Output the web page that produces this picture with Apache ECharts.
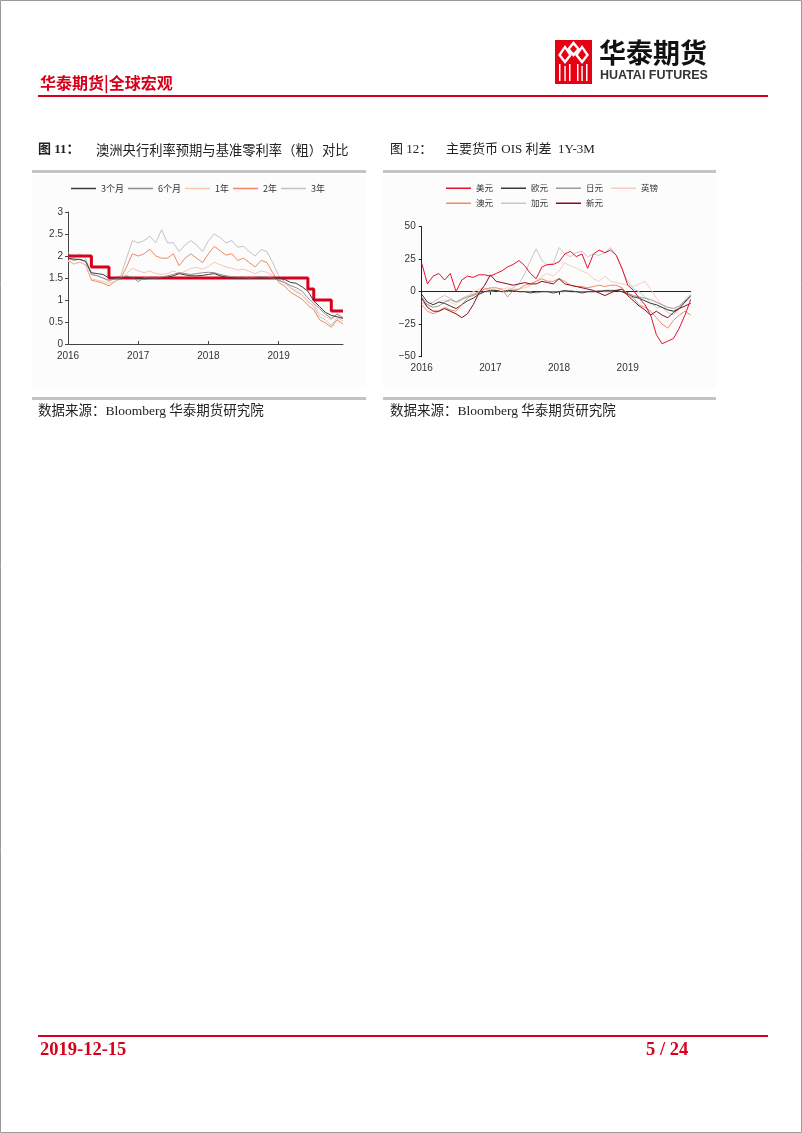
<!DOCTYPE html>
<html>
<head>
<meta charset="utf-8">
<script src="https://cdn.jsdelivr.net/npm/echarts@6/dist/echarts.min.js"></script>
<style>
  html, body { margin: 0; padding: 0; background: #fff; }
  #page { width: 802px; height: 1133px; }
</style>
</head>
<body>
<div id="page"></div>
<script>
// monthly points, Jan 2016 .. Dec 2019
var months = [
  '2016-01','2016-02','2016-03','2016-04','2016-05','2016-06','2016-07','2016-08','2016-09','2016-10','2016-11','2016-12',
  '2017-01','2017-02','2017-03','2017-04','2017-05','2017-06','2017-07','2017-08','2017-09','2017-10','2017-11','2017-12',
  '2018-01','2018-02','2018-03','2018-04','2018-05','2018-06','2018-07','2018-08','2018-09','2018-10','2018-11','2018-12',
  '2019-01','2019-02','2019-03','2019-04','2019-05','2019-06','2019-07','2019-08','2019-09','2019-10','2019-11','2019-12'
];

// 图11: RBA expectations (%)
var rate3M = [1.95,1.93,1.92,1.88,1.62,1.6,1.58,1.5,1.5,1.5,1.52,1.5,
  1.5,1.48,1.5,1.5,1.5,1.52,1.55,1.6,1.57,1.55,1.55,1.56,
  1.58,1.6,1.55,1.52,1.5,1.5,1.5,1.5,1.5,1.5,1.5,1.5,
  1.5,1.47,1.4,1.38,1.3,1.2,0.98,0.85,0.72,0.65,0.62,0.58];
var rate6M = [1.95,1.9,1.93,1.88,1.58,1.55,1.5,1.45,1.48,1.5,1.55,1.52,
  1.42,1.5,1.5,1.5,1.52,1.55,1.58,1.62,1.6,1.58,1.6,1.62,
  1.63,1.62,1.58,1.55,1.53,1.52,1.52,1.5,1.52,1.53,1.52,1.5,
  1.45,1.4,1.33,1.28,1.2,1.05,0.92,0.8,0.68,0.58,0.68,0.6];
var rate1Y = [1.88,1.82,1.86,1.8,1.48,1.45,1.42,1.38,1.43,1.48,1.6,1.72,
  1.66,1.62,1.66,1.6,1.58,1.6,1.66,1.6,1.65,1.72,1.74,1.7,
  1.76,1.86,1.8,1.75,1.72,1.68,1.7,1.65,1.6,1.66,1.63,1.55,
  1.45,1.38,1.28,1.22,1.12,0.95,0.88,0.7,0.62,0.55,0.68,0.58];
var rate2Y = [1.9,1.82,1.86,1.8,1.45,1.42,1.38,1.32,1.42,1.48,1.75,2.05,
  2.0,2.05,2.15,2.0,1.95,1.95,2.05,1.78,1.95,2.05,1.95,1.85,
  2.05,2.22,2.12,2.02,2.05,1.9,1.95,1.85,1.75,1.9,1.85,1.62,
  1.4,1.32,1.18,1.1,1.02,0.88,0.78,0.55,0.48,0.38,0.55,0.45];
var rate3Y = [2.08,1.95,2.05,1.95,1.58,1.55,1.5,1.42,1.5,1.55,1.95,2.35,
  2.3,2.35,2.45,2.3,2.6,2.3,2.3,2.1,2.25,2.35,2.25,2.1,
  2.35,2.5,2.42,2.3,2.35,2.2,2.22,2.1,2.0,2.15,2.1,1.85,
  1.55,1.42,1.28,1.18,1.12,0.98,0.85,0.62,0.55,0.42,0.6,0.52];
var cashRate = [2,2,2,2,1.75,1.75,1.75,1.5,1.5,1.5,1.5,1.5,
  1.5,1.5,1.5,1.5,1.5,1.5,1.5,1.5,1.5,1.5,1.5,1.5,
  1.5,1.5,1.5,1.5,1.5,1.5,1.5,1.5,1.5,1.5,1.5,1.5,
  1.5,1.5,1.5,1.5,1.5,1.25,1,1,1,0.75,0.75,0.75];

// 图12: OIS 1Y-3M spread (bp)
var usd = [22,6,12,14,9,14,0,9,12,11,13,13,
  12,14,16,19,21,24,20,14,10,19,21,21,
  23,29,31,27,29,18,29,32,30,32,28,18,
  5,1,-5,-10,-18,-33,-40,-38,-36,-28,-18,-6];
var eur = [-2,-8,-10,-8,-9,-11,-13,-10,-7,-5,-2,0,
  1,1,0,1,1,0,0,-1,0,0,0,-1,
  0,1,0,0,-1,0,0,0,1,1,1,0,
  -2,-4,-5,-7,-9,-10,-12,-14,-15,-13,-8,-3];
var jpy = [-4,-10,-12,-11,-8,-6,-8,-6,-4,-3,-1,0,
  0,1,0,0,1,0,0,0,-1,0,0,0,
  0,0,1,0,0,0,0,1,0,0,1,0,
  -1,-3,-4,-5,-6,-8,-10,-12,-13,-11,-7,-4];
var gbp = [-8,-12,-10,-8,-6,-8,-10,-6,-3,0,2,3,
  2,1,2,3,2,2,3,5,8,12,14,12,
  16,22,20,18,16,14,10,8,12,8,7,6,
  5,4,6,8,2,-5,-10,-14,-15,-12,-8,-6];
var aud = [-10,-15,-17,-15,-12,-14,-15,-10,-5,-2,0,2,
  3,3,2,-4,1,2,5,6,8,10,8,8,
  10,8,5,4,4,3,4,5,4,5,5,3,
  -2,-5,-10,-12,-15,-20,-25,-28,-22,-18,-15,-18];
var cad = [-8,-10,-8,-5,-3,-5,-8,-5,-3,-2,0,2,
  2,1,0,1,3,6,14,24,33,24,20,22,
  34,29,27,30,31,27,29,28,30,34,28,17,
  8,2,0,-4,-8,-12,-12,-16,-18,-12,-6,-2];
var sgd = [-5,-12,-15,-15,-13,-15,-17,-20,-17,-10,-1,5,
  13,8,7,6,5,6,7,6,6,8,7,6,
  10,6,5,4,3,2,1,-1,-3,-1,1,2,
  -3,-7,-11,-14,-18,-15,-18,-20,-16,-13,-11,-9];

var serif = "'Liberation Serif', 'Noto Sans CJK SC'";
var cjk = "'Noto Sans CJK SC'";
var sans = "'Liberation Sans', Arial, sans-serif";

function isJan(i, v) { return v.slice(5) === '01'; }

function line(name, data, color, width, x, y, z) {
  return {
    name: name, type: 'line', data: data,
    xAxisIndex: x, yAxisIndex: y, z: z,
    symbol: 'none', showSymbol: false, animation: false,
    lineStyle: { color: color, width: width },
    itemStyle: { color: color }
  };
}

function txt(x, y, text, size, color, family, weight) {
  return {
    type: 'text', x: x, y: y, silent: true,
    style: {
      text: text, fill: color, fontSize: size, fontFamily: family,
      fontWeight: weight || 'normal', textVerticalAlign: 'middle'
    }
  };
}

function bar(x, y, w, h, color) {
  return { type: 'rect', shape: { x: x, y: y, width: w, height: h }, style: { fill: color }, silent: true };
}

var graphics = [
  { type: 'rect', shape: { x: 0.5, y: 0.5, width: 801, height: 1132 }, style: { fill: 'none', stroke: '#9a9a9a' }, z: -10 },
  bar(32, 175, 334, 212, '#fcfcfc'),
  bar(383, 175, 333, 212, '#fcfcfc'),
  // header
  txt(40, 83, '华泰期货|全球宏观', 16, '#d7001b', cjk, 'bold'),
  bar(38, 95, 730, 2, '#d7001b'),
  // logo
  bar(555, 40, 37, 44, '#e60012'),
  { type: 'polygon', shape: { points: [[565, 45], [572, 55], [565, 64], [558, 55]] }, style: { fill: '#fff' } },
  { type: 'polygon', shape: { points: [[573.5, 41], [580, 49], [573.5, 57], [567, 49]] }, style: { fill: '#fff' } },
  { type: 'polygon', shape: { points: [[582, 45], [589, 55], [582, 64], [575, 55]] }, style: { fill: '#fff' } },
  { type: 'polygon', shape: { points: [[565, 49], [569, 55], [565, 60], [561, 55]] }, style: { fill: '#e60012' } },
  { type: 'polygon', shape: { points: [[573.5, 45], [577, 49], [573.5, 53], [570, 49]] }, style: { fill: '#e60012' } },
  { type: 'polygon', shape: { points: [[582, 49], [586, 55], [582, 60], [578, 55]] }, style: { fill: '#e60012' } },
  bar(559, 64, 1.5, 17, '#fff'), bar(564.3, 66, 1.5, 15, '#fff'), bar(569, 64, 1.5, 17, '#fff'),
  bar(577, 64, 1.5, 17, '#fff'), bar(581.3, 66, 1.5, 15, '#fff'), bar(586, 64, 1.5, 17, '#fff'),
  txt(599, 53, '华泰期货', 27, '#111', cjk, 'bold'),
  txt(600, 76, 'HUATAI FUTURES', 12.5, '#333', sans, 'bold'),
  // figure titles
  txt(38, 150, '图 11：', 13, '#222', serif, 'bold'),
  txt(96, 150, '澳洲央行利率预期与基准零利率（粗）对比', 13.3, '#222', cjk),
  txt(390, 150, '图 12：', 13, '#222', serif),
  txt(446, 150, '主要货币 OIS 利差  1Y-3M', 13, '#222', serif),
  bar(32, 170, 334, 3, '#c4c4c4'),
  bar(383, 170, 333, 3, '#c4c4c4'),
  // sources
  bar(32, 397, 334, 3, '#c4c4c4'),
  bar(383, 397, 333, 3, '#c4c4c4'),
  txt(38, 411, '数据来源：Bloomberg 华泰期货研究院', 13.5, '#222', serif),
  txt(390, 411, '数据来源：Bloomberg 华泰期货研究院', 13.5, '#222', serif),
  // footer
  bar(38, 1035, 730, 2, '#d7001b'),
  txt(40, 1050, '2019-12-15', 18.5, '#d7001b', serif, 'bold'),
  txt(646, 1050, '5 / 24', 18.5, '#d7001b', serif, 'bold')
];

var axisText = { fontSize: 10, color: '#333', fontFamily: sans };
var legendBase = { padding: 0, icon: 'rect', itemWidth: 25, itemHeight: 1.5 };

var option = {
  animation: false,
  backgroundColor: '#fff',
  graphic: graphics,
  legend: [
    Object.assign({
      data: ['3个月', '6个月', '1年', '2年', '3年'],
      left: 71, top: 184, itemGap: 4,
      textStyle: { fontSize: 9, color: '#333', fontFamily: cjk }
    }, legendBase),
    Object.assign({
      data: ['美元', '欧元', '日元', '英镑'],
      left: 446, top: 184, itemGap: 8,
      textStyle: { fontSize: 8.5, color: '#333', fontFamily: cjk }
    }, legendBase),
    Object.assign({
      data: ['澳元', '加元', '新元'],
      left: 446, top: 199, itemGap: 8,
      textStyle: { fontSize: 8.5, color: '#333', fontFamily: cjk }
    }, legendBase)
  ],
  grid: [
    { left: 68, top: 212, width: 275, height: 132 },
    { left: 421.7, top: 226.7, width: 269, height: 130 }
  ],
  xAxis: [
    {
      gridIndex: 0, type: 'category', data: months, boundaryGap: false,
      axisLine: { lineStyle: { color: '#444', width: 1 } },
      axisTick: { inside: true, length: 3, interval: isJan, lineStyle: { color: '#444' } },
      axisLabel: { interval: isJan, margin: 7, formatter: function (v) { return v.slice(0, 4); }, textStyle: axisText }
    },
    {
      gridIndex: 1, type: 'category', data: months, boundaryGap: false,
      axisLine: { show: false }, axisTick: { show: false },
      axisLabel: { interval: isJan, margin: 7, formatter: function (v) { return v.slice(0, 4); }, textStyle: axisText }
    },
    {
      gridIndex: 1, type: 'category', data: months, boundaryGap: false,
      axisLine: { onZero: true, onZeroAxisIndex: 1, lineStyle: { color: '#222', width: 1 } },
      axisTick: { inside: true, length: 3, interval: isJan, lineStyle: { color: '#222' } },
      axisLabel: { show: false }
    }
  ],
  yAxis: [
    {
      gridIndex: 0, type: 'value', min: 0, max: 3, interval: 0.5,
      splitLine: { show: false },
      axisLine: { show: true, lineStyle: { color: '#444', width: 1 } },
      axisTick: { show: true, length: 3, lineStyle: { color: '#444' } },
      axisLabel: { margin: 5, textStyle: axisText }
    },
    {
      gridIndex: 1, type: 'value', min: -50, max: 50, interval: 25,
      splitLine: { show: false },
      axisLine: { show: true, lineStyle: { color: '#222', width: 1 } },
      axisTick: { show: true, length: 3, lineStyle: { color: '#222' } },
      axisLabel: { margin: 6, textStyle: axisText, formatter: function (v) { return String(v).replace('-', '\u2212'); } }
    }
  ],
  series: [
    line('3年', rate3Y, '#c3c3c3', 1, 0, 0, 2),
    line('2年', rate2Y, '#ef8a64', 1, 0, 0, 3),
    line('1年', rate1Y, '#f8c6b3', 1, 0, 0, 4),
    Object.assign(line('现金利率', cashRate, '#d8001c', 3, 0, 0, 5), { step: 'end' }),
    line('6个月', rate6M, '#8e8e8e', 1, 0, 0, 6),
    line('3个月', rate3M, '#3d3d3d', 1, 0, 0, 7),

    line('加元', cad, '#c8c8c8', 1, 1, 1, 2),
    line('英镑', gbp, '#f9cdbb', 1, 1, 1, 3),
    line('日元', jpy, '#9a9a9a', 1, 1, 1, 4),
    line('欧元', eur, '#3a3a3a', 1, 1, 1, 5),
    line('澳元', aud, '#f08a66', 1, 1, 1, 6),
    line('新元', sgd, '#8c0a1e', 1, 1, 1, 7),
    line('美元', usd, '#e3132c', 1, 1, 1, 8)
  ]
};

var chart = echarts.init(document.getElementById('page'), null, { renderer: 'canvas' });
chart.setOption(option);
</script>
</body>
</html>
